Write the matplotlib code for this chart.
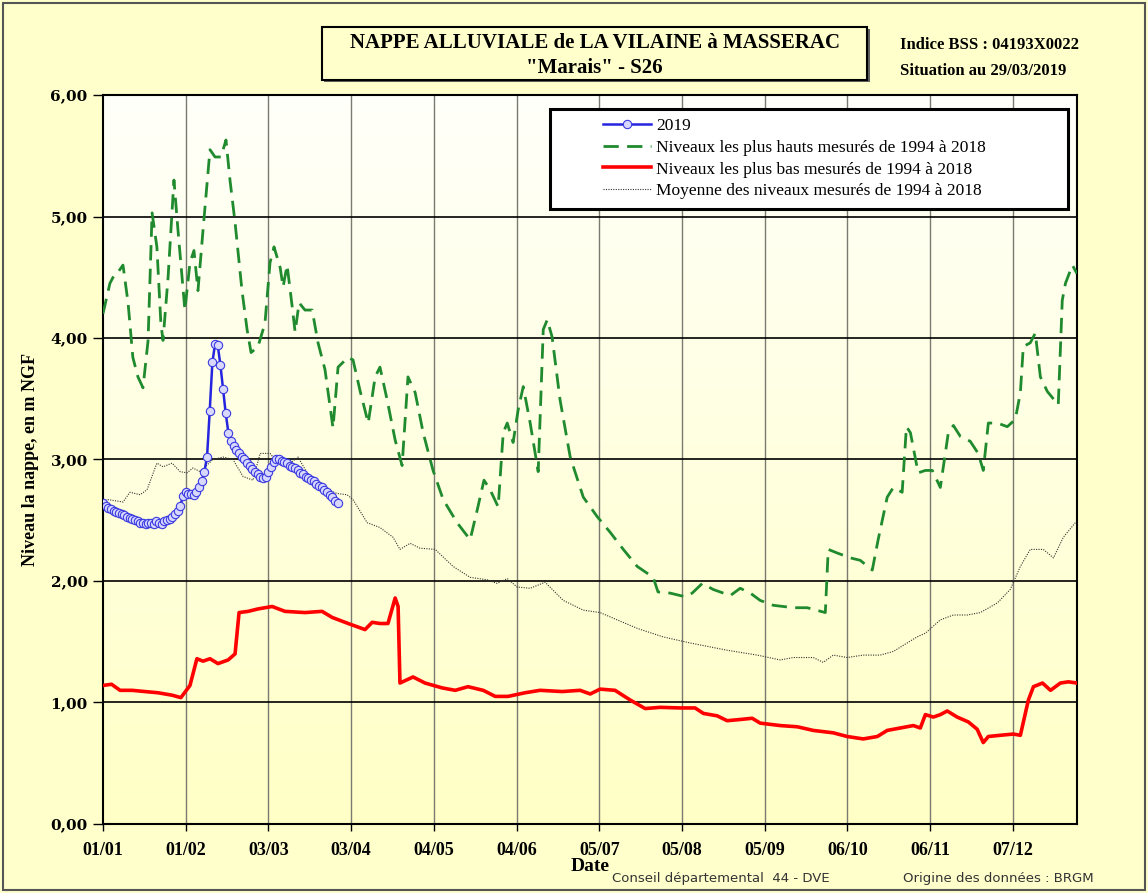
import numpy as np
import matplotlib
matplotlib.use("Agg")
import matplotlib.pyplot as plt
from matplotlib.colors import LinearSegmentedColormap
from matplotlib.patches import Rectangle
from matplotlib.ticker import FuncFormatter

# x = day of year (leap-year calendar, ticks every 31 days)
tick_days = [0, 31, 62, 93, 124, 155, 186, 217, 248, 279, 310, 341]
tick_labels = ["01/01", "01/02", "03/03", "03/04", "04/05", "04/06",
               "05/07", "05/08", "05/09", "06/10", "06/11", "07/12"]

# 2019 daily levels, 01/01 -> 29/03
level_2019 = [2.64, 2.62, 2.60, 2.59, 2.58, 2.57, 2.56, 2.55, 2.54, 2.53,
              2.52, 2.51, 2.50, 2.49, 2.48, 2.48, 2.47, 2.48, 2.48, 2.47,
              2.49, 2.48, 2.47, 2.49, 2.50, 2.51, 2.53, 2.55, 2.58, 2.62,
              2.70, 2.73, 2.72, 2.72, 2.71, 2.73, 2.77, 2.82, 2.90, 3.02,
              3.40, 3.80, 3.95, 3.94, 3.78, 3.58, 3.38, 3.22, 3.15, 3.11,
              3.08, 3.05, 3.02, 3.00, 2.97, 2.95, 2.92, 2.90, 2.88, 2.86,
              2.85, 2.86, 2.90, 2.94, 2.98, 3.00, 3.00, 2.99, 2.98, 2.97,
              2.95, 2.94, 2.93, 2.91, 2.89, 2.88, 2.86, 2.85, 2.83, 2.82,
              2.80, 2.78, 2.77, 2.75, 2.73, 2.71, 2.69, 2.66, 2.64]
days_2019 = list(range(len(level_2019)))

# highest levels 1994-2018
max_days = [0, 2.6, 4.5, 5.6, 7.5, 9.4, 11.2, 13.1, 15, 16.9, 18.4, 20.2, 21.7,
            22.5, 24.4, 26.6, 28.1, 30.7, 32.6, 34.1, 35.6, 37.5, 40.1, 42,
            44.2, 46.1, 47.6, 49.5, 52.1, 54, 55.5, 58.1, 60.7, 62.6, 64.1,
            66.4, 67.5, 69, 70.9, 72, 73.5, 75.7, 78.4, 80.6, 83.2, 86.2,
            88.1, 91.8, 93.7, 96.3, 99.4, 102, 103.8, 106.5, 109.5, 112.1,
            114.3, 117, 120, 123.7, 127.5, 132.7, 137.6, 140.2, 142.8, 145.1,
            148.1, 150, 151.5, 153.7, 155.6, 157.5, 160.1, 163.1, 165, 166.5,
            168.3, 171.3, 175.1, 180, 185.2, 190.1, 195, 200.2, 206.2, 208,
            212.6, 218.2, 220.8, 224.6, 228.7, 235.1, 238.8, 242.6, 246.3,
            251.2, 258.7, 263.9, 270.7, 271.8, 275.2, 280.1, 283.8, 288.3,
            290.5, 293.9, 296.2, 299.5, 301.1, 302.6, 305.5, 308.2, 310.8,
            313.8, 316.8, 318.7, 321.3, 325, 328, 329.9, 331.8, 335.2, 338.9,
            341.9, 343.8, 344.9, 347.5, 349.4, 351.3, 353.9, 358, 359.5,
            360.7, 363.3, 365]
max_levels = [4.20, 4.45, 4.53, 4.54, 4.60, 4.29, 3.84, 3.68, 3.59, 3.98, 5.03,
              4.75, 4.12, 3.98, 4.50, 5.30, 4.89, 4.23, 4.62, 4.72, 4.39, 4.89,
              5.55, 5.49, 5.49, 5.63, 5.30, 4.95, 4.39, 4.07, 3.88, 3.93, 4.12,
              4.62, 4.75, 4.58, 4.42, 4.60, 4.26, 4.05, 4.29, 4.23, 4.23, 3.96,
              3.74, 3.26, 3.76, 3.84, 3.82, 3.57, 3.30, 3.68, 3.76, 3.49, 3.16,
              2.95, 3.68, 3.55, 3.22, 2.91, 2.67, 2.48, 2.34, 2.58, 2.83, 2.75,
              2.61, 3.22, 3.30, 3.14, 3.41, 3.60, 3.30, 2.90, 4.07, 4.15, 4.01,
              3.49, 3.02, 2.69, 2.53, 2.40, 2.26, 2.12, 2.03, 1.91, 1.90, 1.87,
              1.90, 1.98, 1.93, 1.88, 1.94, 1.90, 1.84, 1.80, 1.78, 1.78, 1.74,
              2.26, 2.23, 2.19, 2.17, 2.09, 2.34, 2.69, 2.77, 2.73, 3.27, 3.22,
              2.89, 2.91, 2.91, 2.77, 3.22, 3.28, 3.19, 3.15, 3.05, 2.91, 3.30,
              3.30, 3.27, 3.33, 3.55, 3.93, 3.96, 4.04, 3.68, 3.56, 3.45, 4.31,
              4.45, 4.60, 4.53]

# lowest levels 1994-2018
min_days = [0, 3.2, 6.4, 10.9, 15.7, 20.6, 25.9, 29.2, 32.6, 35.2, 37.5, 40.1,
            43.1, 46.9, 49.5, 51, 54.4, 58.1, 63.4, 68.2, 75.7, 82.1, 85.9,
            91.9, 98.2, 100.9, 103.8, 106.8, 109.5, 110.6, 111.3, 116.2, 120.7,
            127.1, 132, 136.8, 142.5, 147, 151.8, 158.2, 163.8, 172.1, 178.8,
            182.6, 186.3, 191.9, 197.6, 203.2, 208.8, 216.3, 221.9, 225, 230.2,
            233.9, 238.8, 243.3, 246.3, 253.8, 260.2, 266.2, 273.7, 278.9,
            284.9, 290.2, 293.9, 298.8, 303.7, 306.3, 308.2, 311.2, 313.8,
            316.4, 320.1, 324.3, 327.6, 329.9, 331.8, 336.3, 341.2, 343.8,
            346.8, 348.7, 352.1, 355.1, 358.8, 361.8, 365]
min_levels = [1.14, 1.15, 1.10, 1.10, 1.09, 1.08, 1.06, 1.04, 1.14, 1.36, 1.34,
              1.36, 1.32, 1.35, 1.40, 1.74, 1.75, 1.77, 1.79, 1.75, 1.74, 1.75,
              1.70, 1.65, 1.60, 1.66, 1.65, 1.65, 1.86, 1.79, 1.16, 1.21, 1.16,
              1.12, 1.10, 1.13, 1.10, 1.05, 1.05, 1.08, 1.10, 1.09, 1.10, 1.07,
              1.11, 1.10, 1.02, 0.95, 0.96, 0.955, 0.955, 0.91, 0.89, 0.85,
              0.86, 0.87, 0.83, 0.81, 0.80, 0.77, 0.75, 0.72, 0.70, 0.72, 0.77,
              0.79, 0.81, 0.79, 0.90, 0.88, 0.90, 0.93, 0.88, 0.84, 0.78, 0.67,
              0.72, 0.73, 0.74, 0.73, 1.02, 1.13, 1.16, 1.10, 1.16, 1.17, 1.16]

# mean levels 1994-2018
mean_days = [0, 1.9, 7.5, 10.1, 13.9, 16.5, 20.2, 22.5, 25.9, 28.9, 31.5, 33.7,
             36.4, 41.2, 45, 48.7, 52.5, 56.2, 58.9, 62.6, 65.6, 70.1, 73.1,
             76.5, 82.5, 87.7, 91.5, 93.7, 99, 103.8, 108.7, 111.3, 115.1,
             118.8, 124.5, 131.2, 137.6, 144, 147.7, 151.5, 155.2, 160.1,
             165.7, 172.5, 180, 186.3, 192.7, 200.2, 209.9, 220, 233.9, 245.2,
             253.8, 258.7, 266.2, 269.9, 273.7, 278.9, 284.9, 291.3, 296.2,
             299.9, 305.1, 308.2, 313.8, 318.7, 323.9, 328.8, 335.2, 340,
             343.8, 347.5, 352.4, 356.2, 359.9, 364.4]
mean_levels = [2.66, 2.67, 2.65, 2.73, 2.71, 2.75, 2.97, 2.94, 2.97, 2.90, 2.89,
               2.93, 2.90, 3.00, 3.02, 3.00, 2.86, 2.83, 3.05, 3.05, 2.97, 2.97,
               3.02, 2.89, 2.77, 2.72, 2.71, 2.67, 2.48, 2.44, 2.36, 2.26, 2.31,
               2.27, 2.26, 2.12, 2.03, 2.01, 1.98, 2.02, 1.95, 1.94, 1.99, 1.84,
               1.76, 1.74, 1.68, 1.61, 1.54, 1.49, 1.43, 1.39, 1.35, 1.37, 1.37,
               1.33, 1.39, 1.37, 1.39, 1.39, 1.42, 1.47, 1.54, 1.57, 1.68, 1.72,
               1.72, 1.74, 1.82, 1.93, 2.12, 2.26, 2.26, 2.19, 2.36, 2.48]

SERIF = "Liberation Serif"
BG = "#FFFFCC"

fig = plt.figure(figsize=(11.48, 8.93), dpi=100, facecolor=BG)
ax = fig.add_axes([0.0897, 0.0773, 0.8484, 0.8163])

# plot area gradient: near white at top, pale yellow at bottom
cmap = LinearSegmentedColormap.from_list("bg", ["#FFFFC6", "#FFFFFA"])
ax.imshow(np.linspace(0, 1, 256).reshape(-1, 1), cmap=cmap, origin="lower",
          extent=[0, 1, 0, 1], transform=ax.transAxes, aspect="auto", zorder=0)

ax.set_xlim(0, 365)
ax.set_ylim(0, 6)

for d in tick_days[1:]:
    ax.axvline(d, color="#7a7a70", lw=1.0, zorder=1)
for v in range(1, 6):
    ax.axhline(v, color="black", lw=1.2, zorder=1)

ax.plot(mean_days, mean_levels, color="#333333", lw=0.8, ls=(0, (1, 1.2)),
        zorder=2, label="Moyenne des niveaux mesurés de 1994 à 2018")
ax.plot(min_days, min_levels, color="#FF0000", lw=2.6, zorder=3,
        label="Niveaux les plus bas mesurés de 1994 à 2018")
ax.plot(max_days, max_levels, color="#1F8A2E", lw=2.0, ls=(0, (5.5, 3)),
        zorder=3, label="Niveaux les plus hauts mesurés de 1994 à 2018")
ax.plot(days_2019, level_2019, color="#2525E0", lw=1.8, marker="o", ms=6,
        mfc="#D8D8FF", mec="#3A3AE0", mew=0.8, zorder=4, label="2019")

ax.set_xticks(tick_days)
ax.set_xticklabels(tick_labels)
ax.set_yticks(range(0, 7))
ax.yaxis.set_major_formatter(FuncFormatter(lambda v, p: f"{v:.2f}".replace(".", ",")))
ax.tick_params(axis="x", length=5, width=1, pad=8, labelsize=13)
ax.tick_params(axis="y", length=7, width=1, pad=4, labelsize=11)
for lab in ax.get_xticklabels():
    lab.set_fontfamily(SERIF)
    lab.set_fontweight("bold")
for lab in ax.get_yticklabels():
    lab.set_fontfamily("DejaVu Serif")
    lab.set_fontweight("bold")
for s in ax.spines.values():
    s.set_linewidth(1.5)

ax.set_xlabel("Date", fontfamily=SERIF, fontweight="bold", fontsize=14, labelpad=-1)
ax.set_ylabel("Niveau la nappe, en m NGF", fontfamily=SERIF, fontweight="bold",
              fontsize=13, labelpad=8)

# legend: wide white frame drawn separately, entries inset like the original
ax.add_patch(Rectangle((0.459, 0.8436), 0.532, 0.1374, transform=ax.transAxes,
                       facecolor="white", edgecolor="black", lw=2.2, zorder=5))
handles, labels = ax.get_legend_handles_labels()
order = [3, 2, 1, 0]
leg = ax.legend([handles[i] for i in order], [labels[i] for i in order],
                loc="upper left", bbox_to_anchor=(0.513, 0.969), frameon=False,
                borderpad=0, labelspacing=0.33, handlelength=2.8,
                handletextpad=0.3, borderaxespad=0,
                prop={"family": SERIF, "size": 12.5})
leg.set_zorder(6)

# title box
fig.patches.append(Rectangle((0.2825, 0.9082), 0.4750, 0.0590, transform=fig.transFigure,
                             facecolor="#606060", edgecolor="none", zorder=1))
fig.patches.append(Rectangle((0.2805, 0.9104), 0.4750, 0.0590, transform=fig.transFigure,
                             facecolor=BG, edgecolor="black", lw=1.5, zorder=2))
fig.text(0.518, 0.952, "NAPPE ALLUVIALE de LA VILAINE à MASSERAC", ha="center",
         va="center", fontfamily=SERIF, fontweight="bold", fontsize=15)
fig.text(0.518, 0.924, "\"Marais\" - S26", ha="center", va="center",
         fontfamily=SERIF, fontweight="bold", fontsize=15)

fig.text(0.784, 0.950, "Indice BSS : 04193X0022", ha="left", va="center",
         fontfamily=SERIF, fontweight="bold", fontsize=12)
fig.text(0.784, 0.920, "Situation au 29/03/2019", ha="left", va="center",
         fontfamily=SERIF, fontweight="bold", fontsize=12)

fig.text(0.533, 0.016, "Conseil départemental  44 - DVE", ha="left", va="center",
         fontfamily="Liberation Sans Narrow", fontsize=9.5, color="#333333")
fig.text(0.787, 0.016, "Origine des données : BRGM", ha="left", va="center",
         fontfamily="Liberation Sans Narrow", fontsize=9.5, color="#333333")

# outer frame
fig.patches.append(Rectangle((0.003, 0.003), 0.994, 0.994, transform=fig.transFigure,
                             facecolor="none", edgecolor="#555555", lw=1.5, zorder=0))

fig.savefig("out.png", dpi=100, facecolor=BG)
